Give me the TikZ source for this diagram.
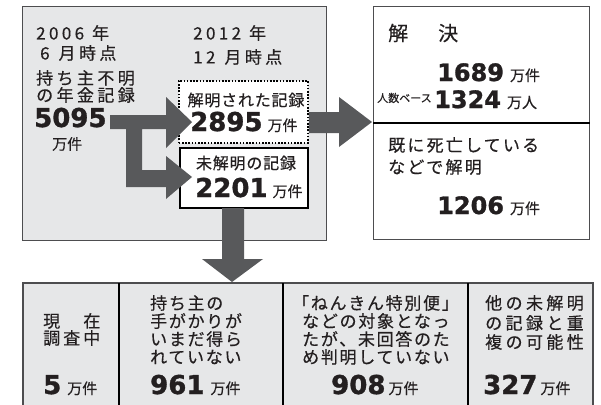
\documentclass[tikz,border=0pt]{standalone}
\usepackage{fontspec}
\newfontfamily\jp[FakeBold=0.4]{Noto Sans CJK JP}
\newfontfamily\numf[FakeBold=1.2]{DejaVu Sans Bold}
\definecolor{txt}{HTML}{231F20}
\definecolor{arr}{HTML}{58595B}
\definecolor{bgc}{HTML}{E6E7E8}
\definecolor{bord}{HTML}{4D4D4F}
\newcommand\JA[2]{\jp\fontsize{#1}{#1}\selectfont\addfontfeature{LetterSpace=#2}}
\newcommand\NUM[2][26]{{\numf\fontsize{#1}{#1}\selectfont #2}}
\newcommand\UNIT[1]{{\jp\fontsize{15}{15}\selectfont #1}}
\begin{document}
\begin{tikzpicture}[x=1pt,y=-1pt,
  lbl/.style={inner sep=0pt, text=txt, anchor=west},
  numl/.style={inner sep=0pt, text=txt, anchor=base west},
  big/.style={lbl, font={\JA{17}{20}}},
  mid/.style={lbl, font={\JA{17}{13}}},
  low/.style={lbl, font={\JA{17}{10}}},
  boxlbl/.style={inner sep=0pt, text=txt, anchor=center, font={\JA{16}{5}}},
  arrowfill/.style={fill=arr, draw=none},
  frame/.style={draw=bord, line width=1.2pt}]
\fill[white] (0,0) rectangle (601,404);
\useasboundingbox (0,0) rectangle (601,404);

% main boxes
\node[frame, fill=bgc, minimum width=304pt, minimum height=234pt, anchor=north west, inner sep=0pt] (gray) at (22,6) {};
\node[frame, fill=white, minimum width=216pt, minimum height=233pt, anchor=north west, inner sep=0pt] (res) at (373,6) {};
\draw[black, line width=2pt] (res.west |- 0,123) -- (res.east |- 0,123);

% bottom boxes
\fill[bgc] (23,283) rectangle (593,405);
\draw[bord, line width=1.2pt] (23,405) -- (23,283) -- (593,283) -- (593,405);
\draw[black, line width=1.6pt] (119,283) -- (119,405);
\draw[black, line width=1.6pt] (283,283) -- (283,405);
\draw[black, line width=1.6pt] (468,283) -- (468,405);

% inner boxes
\node[draw=black, dash pattern=on 1.6pt off 1.6pt, line width=1.6pt, fill=white, minimum width=129pt, minimum height=62pt, anchor=north west, inner sep=0pt] (solved) at (178,80) {};
\node[draw=black, line width=1.8pt, fill=white, minimum width=128pt, minimum height=60pt, anchor=north west, inner sep=0pt] (unsolved) at (179,147) {};

% arrows
\fill[arrowfill] (110,115) -- (166,115) -- (166,97) -- (192,122) -- (166,148) -- (166,129)
  -- (142,129) -- (142,170) -- (166,170) -- (166,156) -- (192,177) -- (166,199) -- (166,187)
  -- (126,187) -- (126,129) -- (110,129) -- cycle;
\fill[arrowfill] (309,112) -- (339,112) -- (339,97) -- (372,122) -- (339,147) -- (339,133) -- (309,133) -- cycle;
\fill[arrowfill] (222,208) -- (244,208) -- (244,259) -- (263,259) -- (232,282) -- (202,259) -- (222,259) -- cycle;

% gray box texts
\node[big] (y2006) at (36,33) {2006\hspace{8pt}年};
\node[big] (m2006) at (40,53) {6\hspace{9pt}月時点};
\node[big] (y2012) at (193,33) {2012\hspace{8pt}年};
\node[big] (m2012) at (193,57) {12\hspace{9pt}月時点};
\node[big] (l1) at (36,78) {持ち主不明};
\node[big] (l2) at (36,95) {の年金記録};
\node[numl] (n5095) at (34,127) {\NUM{5095}};
\node[lbl] (u5095) at (52,144) {\UNIT{万件}};
\node[boxlbl] (t1) at (246,100) {解明された記録};
\node[numl] (n2895) at (190,131) {\NUM{2895}\hspace{5pt}\UNIT{万件}};
\node[boxlbl] (t2) at (246,163) {未解明の記録};
\node[numl] (n2201) at (195,197) {\NUM{2201}\hspace{5pt}\UNIT{万件}};

% result box texts
\node[lbl, font={\jp\fontsize{20}{20}\selectfont}] (kai) at (388,33) {解\hspace{30pt}決};
\node[numl] (n1689) at (437,81) {\NUM[24]{1689}\hspace{6pt}\UNIT{万件}};
\node[lbl, font={\jp\fontsize{11}{11}\selectfont}] (ninzu) at (377,98) {人数ベース};
\node[numl] (n1324) at (434,108) {\NUM[24]{1324}\hspace{6pt}\UNIT{万人}};
\node[mid] (d1) at (388,145) {既に死亡している};
\node[mid] (d2) at (388,167) {などで解明};
\node[numl] (n1206) at (437,214) {\NUM[24]{1206}\hspace{6pt}\UNIT{万件}};

% bottom texts
\node[lbl, font={\JA{17}{18}}] (b1a) at (43,321) {現　在};
\node[lbl, font={\JA{17}{18}}] (b1b) at (43,338) {調査中};
\node[numl] (n5) at (43,394) {\NUM{5}\hspace{6pt}\UNIT{万件}};

\node[low] (b2a) at (150,303) {持ち主の};
\node[low] (b2b) at (150,321) {手がかりが};
\node[low] (b2c) at (150,339) {いまだ得ら};
\node[low] (b2d) at (150,357) {れていない};
\node[numl] (n961) at (150,394) {\NUM{961}\hspace{6pt}\UNIT{万件}};

\node[low] (b3a) at (292,303) {「ねんきん特別便」};
\node[low] (b3b) at (302,321) {などの対象となっ};
\node[low] (b3c) at (302,339) {たが、未回答のた};
\node[low] (b3d) at (302,357) {め判明していない};
\node[numl] (n908) at (331,394) {\NUM{908}\hspace{3pt}\UNIT{万件}};

\node[lbl, font={\JA{17}{20}}] (b4a) at (485,303) {他の未解明};
\node[lbl, font={\JA{17}{20}}] (b4b) at (485,323) {の記録と重};
\node[lbl, font={\JA{17}{20}}] (b4c) at (485,342) {複の可能性};
\node[numl] (n327) at (483,394) {\NUM{327}\hspace{3pt}\UNIT{万件}};
\end{tikzpicture}
\end{document}
